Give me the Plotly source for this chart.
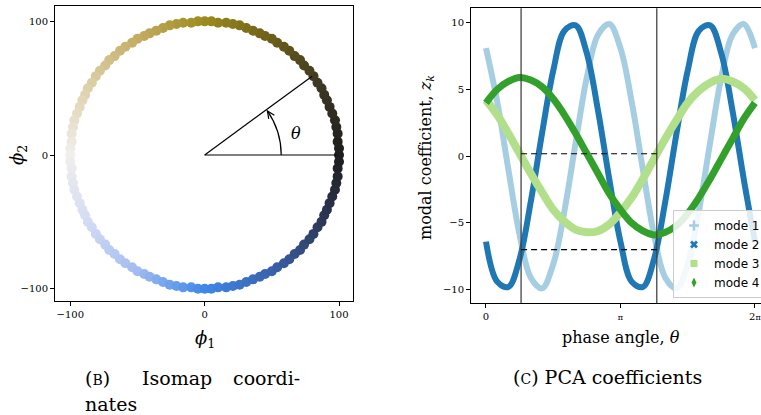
import numpy as np
import plotly.graph_objects as go

# ---------------- data: (b) Isomap coordinates ----------------
phi1 = [100, 100, 99, 99, 98, 97, 95, 93, 91, 89, 87, 84, 81, 78, 74, 71, 67, 63, 59, 54,
        50, 45, 41, 36, 31, 26, 21, 16, 10, 5, 0,
        -5, -10, -16, -21, -26, -31, -36, -41, -45, -50, -54, -59, -63, -67, -71, -74, -78,
        -81, -84, -87, -89, -91, -93, -95, -97, -98, -99, -99, -100, -100,
        -100, -99, -99, -98, -97, -95, -93, -91, -89, -87, -84, -81, -78, -74, -71, -67, -63,
        -59, -54, -50, -45, -41, -36, -31, -26, -21, -16, -10, -5, 0,
        5, 10, 16, 21, 26, 31, 36, 41, 45, 50, 54, 59, 63, 67, 71, 74, 78, 81, 84, 87, 89,
        91, 93, 95, 97, 98, 99, 99, 100]
phi2 = [0, 5, 10, 16, 21, 26, 31, 36, 41, 45, 50, 54, 59, 63, 67, 71, 74, 78, 81, 84, 87,
        89, 91, 93, 95, 97, 98, 99, 99, 100, 100,
        100, 99, 99, 98, 97, 95, 93, 91, 89, 87, 84, 81, 78, 74, 71, 67, 63, 59, 54, 50, 45,
        41, 36, 31, 26, 21, 16, 10, 5, 0,
        -5, -10, -16, -21, -26, -31, -36, -41, -45, -50, -54, -59, -63, -67, -71, -74, -78,
        -81, -84, -87, -89, -91, -93, -95, -97, -98, -99, -99, -100, -100,
        -100, -99, -99, -98, -97, -95, -93, -91, -89, -87, -84, -81, -78, -74, -71, -67, -63,
        -59, -54, -50, -45, -41, -36, -31, -26, -21, -16, -10, -5]
iso_ticks = [-100, 0, 100]
iso_ticktext = ["\u2212100", "0", "100"]
ref_ray_end = [80, 59]      # phi1, phi2 of the theta ray end
ref_base_end = [98, 0]

# ---------------- data: (c) PCA coefficients ----------------
theta_deg = [0, 15, 30, 45, 60, 75, 90, 105, 120, 135, 150, 165, 180,
             195, 210, 225, 240, 255, 270, 285, 300, 315, 330, 345, 360]
mode1 = [8.1, 4.1, -1.0, -5.9, -9.1, -9.9, -8.1, -4.1, 1.0, 5.9, 9.1, 9.9, 8.1,
         4.1, -1.0, -5.9, -9.1, -9.9, -8.1, -4.1, 1.0, 5.9, 9.1, 9.9, 8.1]
mode2 = [-6.4, -9.4, -9.8, -7.7, -3.4, 1.7, 6.4, 9.4, 9.8, 7.7, 3.4, -1.7, -6.4,
         -9.4, -9.8, -7.7, -3.4, 1.7, 6.4, 9.4, 9.8, 7.7, 3.4, -1.7, -6.4]
mode3 = [4.2, 3.1, 1.7, 0.2, -1.3, -2.7, -4.0, -4.9, -5.5, -5.7, -5.6, -5.1, -4.2,
         -3.1, -1.7, -0.2, 1.3, 2.7, 4.0, 4.9, 5.5, 5.8, 5.6, 5.1, 4.2]
mode4 = [4.0, 5.0, 5.6, 5.9, 5.7, 5.2, 4.3, 3.1, 1.7, 0.2, -1.3, -2.8, -4.0,
         -5.0, -5.6, -5.9, -5.7, -5.2, -4.3, -3.1, -1.7, -0.2, 1.3, 2.8, 4.0]
mode_names = ["mode 1", "mode 2", "mode 3", "mode 4"]
vline_theta = [0.82, 3.99]
hline_z = [0.18, -7.0]
pca_yticks = [-10, -5, 0, 5, 10]
pca_yticktext = ["\u221210", "\u22125", "0", "5", "10"]
pca_xticks = [0, np.pi, 2 * np.pi]

# ---------------- styling ----------------
W, H = 761, 415
SERIF = "DejaVu Serif, Liberation Serif, serif"
SANS = "DejaVu Sans, Liberation Sans, sans-serif"
mode_colors = ["#a6cee3", "#1f78b4", "#b2df8a", "#33a02c"]
mode_widths = [6, 6, 8, 7]
mode_symbols = ["cross-thin", "x", "square", "diamond-tall"]
ring_scale = [
    [0.0, "#1e1e1e"], [0.083, "#3b3522"], [0.167, "#6b5d1a"], [0.25, "#9c8a1c"],
    [0.333, "#c4ad62"], [0.417, "#ddd0ab"], [0.5, "#f1efec"], [0.583, "#d3dcf4"],
    [0.667, "#a2bcf0"], [0.75, "#3e88e8"], [0.833, "#3a62ac"], [0.917, "#2d3858"],
    [1.0, "#1e1e1e"],
]

def px_x(p):
    return p / W

def px_y(p):
    return 1 - p / H

fig = go.Figure()

# ring
ang = np.degrees(np.arctan2(np.array(phi2, float), np.array(phi1, float))) % 360
fig.add_trace(go.Scatter(
    x=phi1, y=phi2, mode="markers", xaxis="x", yaxis="y", showlegend=False,
    marker=dict(size=10, color=ang, cmin=0, cmax=360, colorscale=ring_scale,
                opacity=1.0, line=dict(width=0)),
    hoverinfo="skip"))

# PCA modes
theta_rad = np.radians(theta_deg)
for vals, name, col, w in zip([mode1, mode2, mode3, mode4], mode_names, mode_colors, mode_widths):
    fig.add_trace(go.Scatter(
        x=theta_rad, y=vals, mode="lines", xaxis="x2", yaxis="y2",
        line=dict(color=col, width=w, shape="spline"), showlegend=False, name=name))
for name, col, sym in zip(mode_names, mode_colors, mode_symbols):
    mk = dict(symbol=sym, color=col, size=7)
    if sym == "cross-thin":
        mk["line"] = dict(width=2.5, color=col)
    fig.add_trace(go.Scatter(x=[None], y=[None], mode="markers", xaxis="x2", yaxis="y2",
                             marker=mk, name=name, showlegend=True))

shapes = []
# theta annotation on isomap panel
shapes.append(dict(type="line", xref="x", yref="y", x0=0, y0=0, x1=ref_base_end[0], y1=ref_base_end[1],
                   line=dict(color="black", width=1.2)))
shapes.append(dict(type="line", xref="x", yref="y", x0=0, y0=0, x1=ref_ray_end[0], y1=ref_ray_end[1],
                   line=dict(color="black", width=1.2)))
shapes.append(dict(type="path", xref="x", yref="y", path="M 57,0 Q 57,18 46.7,33",
                   line=dict(color="black", width=1.2)))
shapes.append(dict(type="path", xref="x", yref="y",
                   path="M 51.9,29.8 L 46.7,33 L 47.7,27.1",
                   line=dict(color="black", width=1.2)))
# vertical and dashed lines on PCA panel
for xv in vline_theta:
    shapes.append(dict(type="line", xref="x2", yref="y2 domain", x0=xv, x1=xv, y0=0, y1=1,
                       line=dict(color="#444444", width=1.3)))
for yv in hline_z:
    shapes.append(dict(type="line", xref="x2", yref="y2", x0=vline_theta[0], x1=vline_theta[1],
                       y0=yv, y1=yv, line=dict(color="black", width=1.1, dash="6px,4px")))

def pa(x, y, text, size, **kw):
    d = dict(x=px_x(x), y=px_y(y), xref="paper", yref="paper", showarrow=False, text=text,
             xanchor="center", yanchor="middle", font=dict(family=SERIF, size=size, color="black"))
    d.update(kw)
    return d

ann = []
ann.append(dict(x=67.9, y=16, xref="x", yref="y", text="<i>θ</i>", showarrow=False,
                xanchor="center", yanchor="middle",
                font=dict(family=SERIF, size=16, color="black")))
ann.append(pa(205, 339, "<i>ϕ</i><sub>1</sub>", 18))
ann.append(pa(18, 155, "<i>ϕ</i><sub>2</sub>", 18, textangle=-90))
ann.append(pa(621, 337, "phase angle, <i>θ</i>", 16))
ann.append(pa(426, 158, "modal coefficient, <i>z<sub>k</sub></i>", 16, textangle=-90))
ann.append(pa(83, 378, "(<span style='font-size:14px'>B</span>)", 19, xanchor="left"))
ann.append(pa(140, 378, "Isomap", 19, xanchor="left"))
ann.append(pa(302, 378, "coordi-", 19, xanchor="right"))
ann.append(pa(83, 404, "nates", 19, xanchor="left"))
ann.append(pa(607, 377, "(<span style='font-size:14px'>C</span>) PCA coefficients", 19))

tick_font = dict(family=SERIF, size=10, color="black")
axis_common = dict(showgrid=False, zeroline=False, showline=True, linecolor="black", linewidth=1,
                   ticks="outside", ticklen=4, tickwidth=1, tickcolor="black", tickfont=tick_font)

fig.update_layout(
    width=W, height=H, margin=dict(l=0, r=0, t=0, b=0, autoexpand=False),
    paper_bgcolor="white", plot_bgcolor="white",
    xaxis=dict(domain=[px_x(55), px_x(352.7)], range=[-111.4, 110.2], anchor="y", mirror=True,
               tickvals=iso_ticks, ticktext=iso_ticktext, **axis_common),
    yaxis=dict(domain=[px_y(301), px_y(5.7)], range=[-109.2, 111.7], anchor="x", mirror=True,
               tickvals=iso_ticks, ticktext=iso_ticktext, **axis_common),
    xaxis2=dict(domain=[px_x(471), 1.0], range=[-0.35, 6.425], anchor="y2", mirror=True,
                tickvals=pca_xticks,
                ticktext=["0", "<span style='font-size:8px'>π</span>", "2<span style='font-size:8px'>π</span>"],
                **axis_common),
    yaxis2=dict(domain=[px_y(303.3), px_y(8.3)], range=[-11.02, 11.08], anchor="x2", mirror=False,
                tickvals=pca_yticks, ticktext=pca_yticktext, **axis_common),
    legend=dict(x=px_x(673), y=px_y(210), xanchor="left", yanchor="top",
                bgcolor="rgba(255,255,255,0.85)", bordercolor="#cccccc", borderwidth=1,
                font=dict(family=SANS, size=12, color="black"), itemwidth=30,
                tracegroupgap=0),
    shapes=shapes, annotations=ann,
)

fig.write_html("out.html")
